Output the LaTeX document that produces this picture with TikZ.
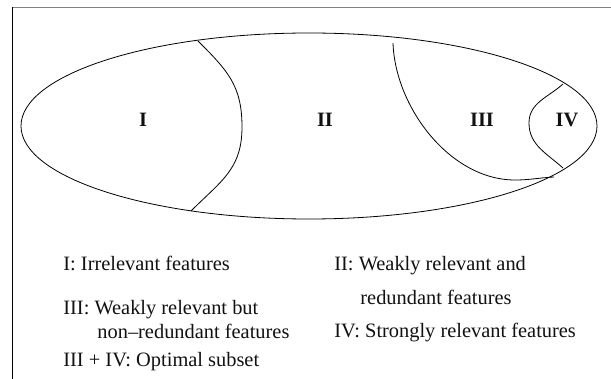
\documentclass[tikz,border=0pt]{standalone}
\usepackage{fontspec}
\setmainfont{Liberation Serif}
\usepackage{tikz}
\usepackage{xcolor}
\definecolor{FontColor}{HTML}{111111}
\definecolor{FrameGray}{HTML}{808080}
\newcommand\legi{I: Irrelevant features}
\newcommand\legii{II: Weakly relevant and}
\newcommand\legiib{redundant features}
\newcommand\legiii{III: Weakly relevant but}
\newcommand\legiiib{non--redundant features}
\newcommand\legiv{IV: Strongly relevant features}
\newcommand\legopt{III + IV: Optimal subset}
\newcommand\txtsize{\fontsize{20.4}{24}\selectfont}
\tikzstyle{region} = [inner sep=0pt, text=FontColor, font=\txtsize\bfseries]
\tikzstyle{legend} = [anchor=base west, inner sep=0pt, text=FontColor, font=\txtsize]
\tikzset{every picture/.style={line width=0.8pt}}

\begin{document}
\begin{tikzpicture}[x=1pt, y=-1pt]
\useasboundingbox (0,0) rectangle (611,379);
% frame
\draw[FrameGray, line width=1.6pt] (12,7.5) -- (611,7.5);
\draw[line width=1pt] (12.5,7) -- (12.5,379);
% feature set and its parts
\draw (309,126) ellipse [x radius=288, y radius=93];
\draw (198,41) to[out=-45, in=90, looseness=1.1] (242,127) to[out=-90, in=45, looseness=1.1] (191,211);
\draw (393,43) to[out=-88, in=180, looseness=0.9] (515,180) to[out=0, in=183] (554,177);
\draw (563,84) to[out=-138, in=90] (529,123) to[out=-90, in=138] (563,168);
% region labels
\node[region] (r1) at (143,120) {I};
\node[region] (r2) at (325,120) {II};
\node[region] (r3) at (482,120) {III};
\node[region] (r4) at (567,120) {IV};
% legend
\node[legend] (l1) at (63,271) {\legi};
\node[legend] (l3) at (63,315) {\legiii};
\node[legend] (l3b) at (97,339) {\legiiib};
\node[legend] (lopt) at (63,367) {\legopt};
\node[legend] (l2) at (334,271) {\legii};
\node[legend] (l2b) at (360,305) {\legiib};
\node[legend] (l4) at (334,338) {\legiv};
\end{tikzpicture}
\end{document}
